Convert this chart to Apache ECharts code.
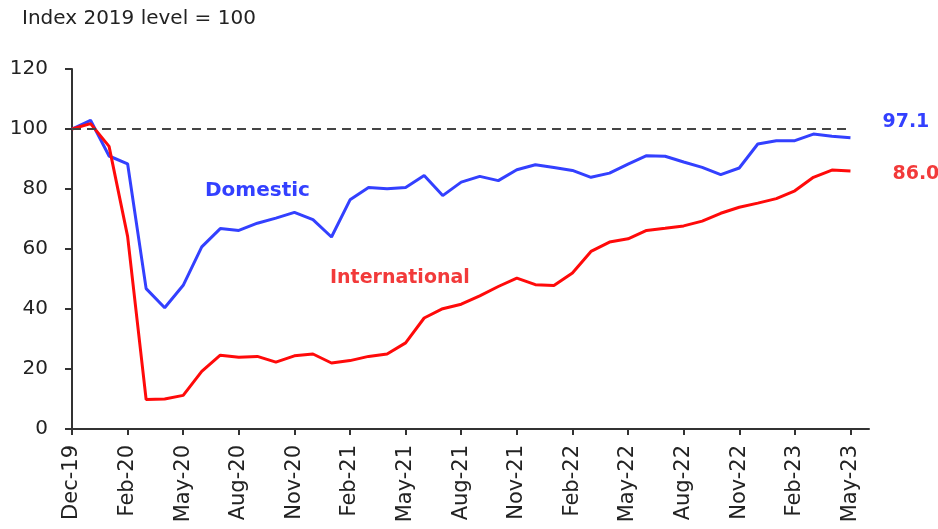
<!DOCTYPE html>
<html>
<head>
<meta charset="utf-8">
<script src="https://cdn.jsdelivr.net/npm/echarts@6/dist/echarts.min.js"></script>
<style>
  html, body { margin: 0; padding: 0; background: #fff; }
  #chart { width: 938px; height: 529px; }
</style>
</head>
<body>
<div id="chart"></div>
<script>
// monthly points, plus one empty month so the axis runs a bit past the last point
const months = [
  'Nov-19', 'Dec-19', 'Jan-20', 'Feb-20', 'Mar-20', 'Apr-20', 'May-20', 'Jun-20', 'Jul-20', 'Aug-20', 'Sep-20', 'Oct-20',
  'Nov-20', 'Dec-20', 'Jan-21', 'Feb-21', 'Mar-21', 'Apr-21', 'May-21', 'Jun-21', 'Jul-21', 'Aug-21', 'Sep-21', 'Oct-21',
  'Nov-21', 'Dec-21', 'Jan-22', 'Feb-22', 'Mar-22', 'Apr-22', 'May-22', 'Jun-22', 'Jul-22', 'Aug-22', 'Sep-22', 'Oct-22',
  'Nov-22', 'Dec-22', 'Jan-23', 'Feb-23', 'Mar-23', 'Apr-23', 'May-23', 'Jun-23'
]

// labels shown on every third month, as printed on the chart
const tickLabels = [
  'Dec-19', 'Feb-20', 'May-20', 'Aug-20', 'Nov-20', 'Feb-21', 'May-21', 'Aug-21',
  'Nov-21', 'Feb-22', 'May-22', 'Aug-22', 'Nov-22', 'Feb-23', 'May-23'
]

const domestic = [
  100, 102.9, 91, 88.4, 46.8, 40.4, 47.9, 60.7, 66.8, 66.2, 68.6, 70.3,
  72.2, 69.8, 64, 76.4, 80.5, 80.1, 80.5, 84.5, 77.8, 82.3, 84.2, 82.8,
  86.4, 88.1, 87.2, 86.2, 83.9, 85.3, 88.3, 91.1, 90.9, 89, 87.2, 84.8,
  87, 95, 96.1, 96.1, 98.3, 97.6, 97.1
]

const international = [
  100, 101.8, 94.2, 64.2, 9.8, 10, 11.2, 19.2, 24.6, 23.9, 24.2, 22.3,
  24.4, 25, 22, 22.8, 24.2, 25, 28.7, 37, 40.1, 41.6, 44.4, 47.5,
  50.3, 48.1, 47.8, 52, 59.2, 62.3, 63.4, 66.2, 66.9, 67.7, 69.3, 71.9,
  73.9, 75.3, 76.8, 79.4, 83.9, 86.3, 86.0
]

const baseline = 100

const BLUE = '#3340ff'
const RED = '#ff0a0a'
const RED_TEXT = '#f23a3a'
const FONT = 'DejaVu Sans'

const chart = echarts.init(document.getElementById('chart'), null, { renderer: 'canvas' })

const lastIdx = domestic.length - 1

const option = {
  animation: false,
  backgroundColor: '#fff',
  textStyle: { fontFamily: FONT },
  title: {
    text: 'Index 2019 level = 100',
    left: 22,
    top: 9,
    padding: 0,
    textStyle: { fontFamily: FONT, fontSize: 20, fontWeight: 'normal', color: '#222' }
  },
  grid: {
    left: 72,
    top: 69,
    right: 69,
    bottom: 100,
    containLabel: false
  },
  xAxis: {
    type: 'category',
    data: months,
    boundaryGap: false,
    axisLine: { lineStyle: { color: '#333', width: 2 } },
    axisTick: { show: true, interval: 2, length: 6, lineStyle: { color: '#333', width: 2 } },
    axisLabel: {
      interval: 2,
      rotate: 90,
      margin: 16,
      fontFamily: FONT,
      fontSize: 21,
      color: '#222',
      formatter: function (value, index) {
        return tickLabels[index / 3] || ''
      }
    },
    splitLine: { show: false }
  },
  yAxis: {
    type: 'value',
    min: 0,
    max: 120,
    interval: 20,
    axisLine: { show: true, lineStyle: { color: '#333', width: 2 } },
    axisTick: { show: true, length: 7, lineStyle: { color: '#333', width: 2 } },
    axisLabel: { margin: 24, fontFamily: FONT, fontSize: 20, color: '#222' },
    splitLine: { show: false }
  },
  graphic: [
    {
      type: 'text',
      left: 205,
      top: 181,
      style: { text: 'Domestic', fill: BLUE, font: 'bold 20px "DejaVu Sans"' }
    },
    {
      type: 'text',
      left: 330,
      top: 269,
      style: { text: 'International', fill: RED_TEXT, font: 'bold 19px "DejaVu Sans"' }
    }
  ],
  series: [
    {
      name: 'Domestic',
      type: 'line',
      data: domestic,
      symbol: 'none',
      z: 3,
      lineStyle: { color: BLUE, width: 3 },
      endLabel: {
        show: true,
        offset: [24, -16],
        color: BLUE,
        fontFamily: FONT,
        fontSize: 19,
        fontWeight: 'bold',
        formatter: p => p.value.toFixed(1)
      },
      markLine: {
        silent: true,
        symbol: 'none',
        label: { show: false },
        lineStyle: { color: '#444', type: [9, 6], width: 2 },
        data: [[{ coord: [0, baseline] }, { coord: [lastIdx, baseline] }]]
      }
    },
    {
      name: 'International',
      type: 'line',
      data: international,
      symbol: 'none',
      z: 4,
      lineStyle: { color: RED, width: 3 },
      endLabel: {
        show: true,
        offset: [34, 3],
        color: RED_TEXT,
        fontFamily: FONT,
        fontSize: 19,
        fontWeight: 'bold',
        formatter: p => p.value.toFixed(1)
      }
    }
  ]
}

chart.setOption(option)
</script>
</body>
</html>
